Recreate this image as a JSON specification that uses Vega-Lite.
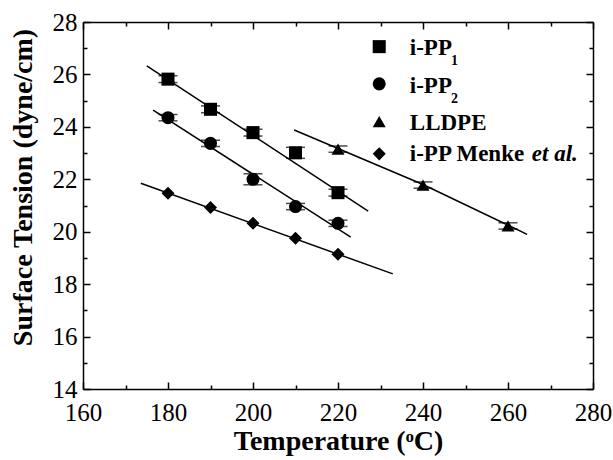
{
  "$schema": "https://vega.github.io/schema/vega-lite/v6.json",
  "width": 510,
  "height": 367,
  "autosize": {"type": "none"},
  "padding": {"left": 83, "top": 22, "right": 20, "bottom": 71},
  "background": "white",
  "config": {"view": {"stroke": null}, "font": "Liberation Serif"},
  "datasets": {
    "points": [
      {"series": "i-PP1", "T": 180, "v": 25.82, "lo": 25.69, "hi": 25.95},
      {"series": "i-PP1", "T": 190, "v": 24.67, "lo": 24.54, "hi": 24.8},
      {"series": "i-PP1", "T": 200, "v": 23.78, "lo": 23.65, "hi": 23.91},
      {"series": "i-PP1", "T": 210, "v": 23.01, "lo": 22.8, "hi": 23.22},
      {"series": "i-PP1", "T": 220, "v": 21.49, "lo": 21.36, "hi": 21.62},
      {"series": "i-PP2", "T": 180, "v": 24.35, "lo": 24.23, "hi": 24.47},
      {"series": "i-PP2", "T": 190, "v": 23.37, "lo": 23.25, "hi": 23.49},
      {"series": "i-PP2", "T": 200, "v": 22.0, "lo": 21.79, "hi": 22.21},
      {"series": "i-PP2", "T": 210, "v": 20.96, "lo": 20.84, "hi": 21.08},
      {"series": "i-PP2", "T": 220, "v": 20.32, "lo": 20.2, "hi": 20.44},
      {"series": "LLDPE", "T": 220, "v": 23.15, "lo": 23.03, "hi": 23.27},
      {"series": "LLDPE", "T": 240, "v": 21.78, "lo": 21.66, "hi": 21.9},
      {"series": "LLDPE", "T": 260, "v": 20.22, "lo": 20.1, "hi": 20.34},
      {"series": "Menke", "T": 180, "v": 21.47},
      {"series": "Menke", "T": 190, "v": 20.92},
      {"series": "Menke", "T": 200, "v": 20.32},
      {"series": "Menke", "T": 210, "v": 19.75},
      {"series": "Menke", "T": 220, "v": 19.14}
    ],
    "fits": [
      {"series": "i-PP1", "T": 175.0, "v": 26.33},
      {"series": "i-PP1", "T": 227.1, "v": 20.79},
      {"series": "i-PP2", "T": 176.5, "v": 24.64},
      {"series": "i-PP2", "T": 223.0, "v": 19.79},
      {"series": "LLDPE", "T": 209.7, "v": 23.88},
      {"series": "LLDPE", "T": 240.0, "v": 21.8},
      {"series": "LLDPE", "T": 264.5, "v": 19.9},
      {"series": "Menke", "T": 173.6, "v": 21.85},
      {"series": "Menke", "T": 232.9, "v": 18.39}
    ],
    "legendSymbols": [
      {"series": "i-PP1", "T": 229.7, "v": 27.06},
      {"series": "i-PP2", "T": 229.7, "v": 25.64},
      {"series": "LLDPE", "T": 229.7, "v": 24.2},
      {"series": "Menke", "T": 229.7, "v": 22.97}
    ],
    "legendLabels": [
      {"T": 236.9, "v": 26.74, "label": "i-PP"},
      {"T": 236.9, "v": 25.3, "label": "i-PP"},
      {"T": 236.9, "v": 23.88, "label": "LLDPE"},
      {"T": 236.9, "v": 22.71, "label": "i-PP Menke"}
    ],
    "legendSubs": [
      {"T": 246.6, "v": 26.36, "label": "1"},
      {"T": 246.6, "v": 24.92, "label": "2"}
    ],
    "legendItalic": [
      {"T": 265.6, "v": 22.71, "label": "et al."}
    ]
  },
  "layer": [
    {
      "data": {"name": "fits"},
      "mark": {"type": "line", "color": "black", "strokeWidth": 1.5},
      "encoding": {
        "x": {
          "field": "T", "type": "quantitative",
          "scale": {"domain": [160, 280], "nice": false, "zero": false},
          "axis": {
            "orient": "bottom",
            "values": [160, 170, 180, 190, 200, 210, 220, 230, 240, 250, 260, 270, 280],
            "labelExpr": "datum.value % 20 === 0 ? datum.label : ''",
            "tickSize": {"condition": {"test": "datum.value % 20 === 0", "value": -7}, "value": -4},
            "tickWidth": 1.5, "tickColor": "black",
            "domainColor": "black", "domainWidth": 1.5,
            "labelPadding": 18, "labelFontSize": 25, "labelFont": "Liberation Serif",
            "labelColor": "black", "labelFlush": false, "labelOverlap": false,
            "grid": false,
            "title": "Temperature (ᵒC)",
            "titleFont": "Liberation Serif", "titleFontSize": 28, "titleFontWeight": "bold",
            "titleColor": "black", "titleX": 255, "titleY": 60, "titleBaseline": "alphabetic", "titleAlign": "center"
          }
        },
        "y": {
          "field": "v", "type": "quantitative",
          "scale": {"domain": [14, 28], "nice": false, "zero": false},
          "axis": {
            "orient": "left",
            "values": [14, 15, 16, 17, 18, 19, 20, 21, 22, 23, 24, 25, 26, 27, 28],
            "labelExpr": "datum.value % 2 === 0 ? datum.label : ''",
            "tickSize": {"condition": {"test": "datum.value % 2 === 0", "value": -7}, "value": -4},
            "tickWidth": 1.5, "tickColor": "black",
            "domainColor": "black", "domainWidth": 1.5,
            "labelPadding": 13, "labelFontSize": 25, "labelFont": "Liberation Serif",
            "labelColor": "black", "labelFlush": false, "labelOverlap": false,
            "grid": false,
            "title": "Surface Tension (dyne/cm)",
            "titleFont": "Liberation Serif", "titleFontSize": 28, "titleFontWeight": "bold",
            "titleColor": "black", "titleX": -60, "titleY": 165, "titleBaseline": "middle", "titleAlign": "center", "titleAngle": -90
          }
        },
        "detail": {"field": "series"}
      }
    },
    {
      "data": {"name": "points"},
      "transform": [{"filter": "datum.lo != null"}],
      "mark": {"type": "errorbar", "color": "black", "thickness": 1.5, "size": 19, "ticks": true},
      "encoding": {
        "x": {"field": "T", "type": "quantitative", "axis": null},
        "y": {"field": "lo", "type": "quantitative", "axis": null},
        "y2": {"field": "hi"}
      }
    },
    {
      "data": {"name": "points"},
      "mark": {"type": "point", "filled": true, "color": "black", "opacity": 1, "size": 170},
      "encoding": {
        "x": {
          "field": "T", "type": "quantitative",
          "axis": {
            "orient": "top",
            "values": [160, 170, 180, 190, 200, 210, 220, 230, 240, 250, 260, 270, 280],
            "labels": false, "title": null,
            "tickSize": {"condition": {"test": "datum.value % 20 === 0", "value": -7}, "value": -4},
            "tickWidth": 1.5, "tickColor": "black", "domainColor": "black", "domainWidth": 1.5, "grid": false
          }
        },
        "y": {
          "field": "v", "type": "quantitative",
          "axis": {
            "orient": "right",
            "values": [14, 15, 16, 17, 18, 19, 20, 21, 22, 23, 24, 25, 26, 27, 28],
            "labels": false, "title": null,
            "tickSize": {"condition": {"test": "datum.value % 2 === 0", "value": -7}, "value": -4},
            "tickWidth": 1.5, "tickColor": "black", "domainColor": "black", "domainWidth": 1.5, "grid": false
          }
        },
        "shape": {
          "field": "series", "type": "nominal", "legend": null,
          "scale": {"domain": ["i-PP1", "i-PP2", "LLDPE", "Menke"], "range": ["square", "circle", "triangle-up", "diamond"]}
        }
      }
    },
    {
      "data": {"name": "legendSymbols"},
      "mark": {"type": "point", "filled": true, "color": "black", "opacity": 1, "size": 170},
      "encoding": {
        "x": {"field": "T", "type": "quantitative", "axis": null},
        "y": {"field": "v", "type": "quantitative", "axis": null},
        "shape": {"field": "series", "type": "nominal", "legend": null}
      }
    },
    {
      "data": {"name": "legendLabels"},
      "mark": {"type": "text", "align": "left", "baseline": "alphabetic", "font": "Liberation Serif", "fontSize": 23, "fontWeight": "bold", "color": "black"},
      "encoding": {
        "x": {"field": "T", "type": "quantitative", "axis": null},
        "y": {"field": "v", "type": "quantitative", "axis": null},
        "text": {"field": "label"}
      }
    },
    {
      "data": {"name": "legendSubs"},
      "mark": {"type": "text", "align": "left", "baseline": "alphabetic", "font": "Liberation Serif", "fontSize": 14, "fontWeight": "bold", "color": "black"},
      "encoding": {
        "x": {"field": "T", "type": "quantitative", "axis": null},
        "y": {"field": "v", "type": "quantitative", "axis": null},
        "text": {"field": "label"}
      }
    },
    {
      "data": {"name": "legendItalic"},
      "mark": {"type": "text", "align": "left", "baseline": "alphabetic", "font": "Liberation Serif", "fontSize": 23, "fontWeight": "bold", "fontStyle": "italic", "color": "black"},
      "encoding": {
        "x": {"field": "T", "type": "quantitative", "axis": null},
        "y": {"field": "v", "type": "quantitative", "axis": null},
        "text": {"field": "label"}
      }
    }
  ],
  "resolve": {"axis": {"x": "independent", "y": "independent"}}
}
